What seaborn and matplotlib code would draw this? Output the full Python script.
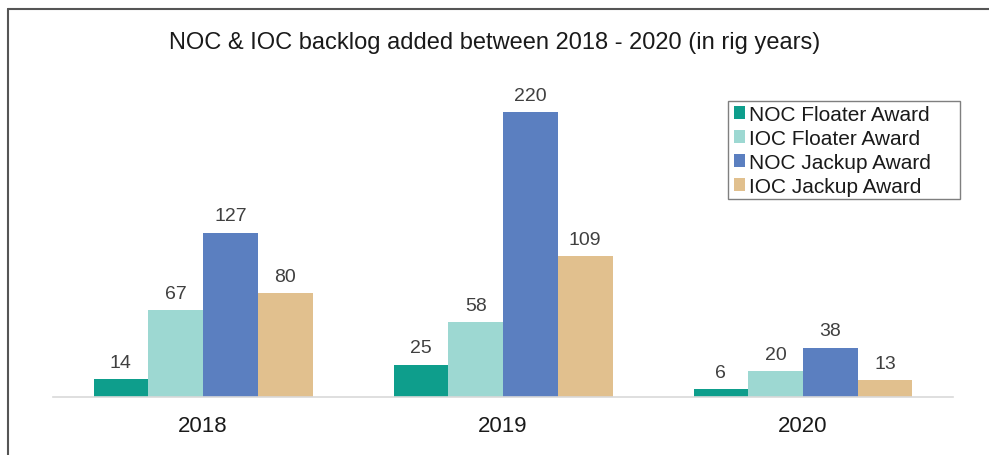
import matplotlib
matplotlib.use("Agg")
import matplotlib.pyplot as plt
import seaborn as sns
import pandas as pd
from matplotlib.lines import Line2D
from matplotlib.patches import Rectangle

years = ["2018", "2019", "2020"]
series = ["NOC Floater Award", "IOC Floater Award", "NOC Jackup Award", "IOC Jackup Award"]
noc_floater = [14, 25, 6]
ioc_floater = [67, 58, 20]
noc_jackup = [127, 220, 38]
ioc_jackup = [80, 109, 13]
colors = ["#0E9E8C", "#9DD8D2", "#5B7FC0", "#E1C08E"]

rows = []
for s, vals in zip(series, [noc_floater, ioc_floater, noc_jackup, ioc_jackup]):
    for y, v in zip(years, vals):
        rows.append({"Year": y, "Series": s, "Value": v})
df = pd.DataFrame(rows)

sns.set_theme(style="white")
plt.rcParams['font.family'] = ['Liberation Sans', 'DejaVu Sans']

W, H = 989, 456
fig = plt.figure(figsize=(W / 100, H / 100), dpi=100)
ax = fig.add_axes([53 / W, 1 - 398 / H, 900 / W, (398 - 70) / H])

sns.barplot(data=df, x="Year", y="Value", hue="Series", hue_order=series,
            palette=colors, width=0.73, saturation=1, ax=ax, errorbar=None,
            linewidth=0)

ax.set_xlim(-0.5, 2.5)
ax.set_ylim(0, (398 - 70) / 1.295)
for c in ax.containers:
    ax.bar_label(c, padding=6, fontsize=14, color="#404040")

ax.set_xlabel("")
ax.set_ylabel("")
ax.set_yticks([])
for side in ["top", "right", "left"]:
    ax.spines[side].set_visible(False)
ax.spines["bottom"].set_color("#D9D9D9")
ax.spines["bottom"].set_linewidth(1.2)
ax.tick_params(axis="x", length=0, pad=13, labelsize=16, labelcolor="#1a1a1a")

leg = ax.legend(loc="upper left", bbox_to_anchor=((730 - 53) / 900, 1 - (102 - 70) / (398 - 70)),
                frameon=False, fontsize=15,
                handlelength=0.55, handleheight=0.55, handletextpad=0.2,
                labelspacing=0.24, borderpad=0.18, borderaxespad=0)
for t in leg.get_texts():
    t.set_color("#1a1a1a")

# legend frame box
fig.add_artist(Rectangle((728 / W, 1 - 200 / H), (960 - 728) / W, (200 - 102) / H,
                         transform=fig.transFigure, fill=False,
                         edgecolor="#7F7F7F", linewidth=1.0))

fig.text(0.5, 1 - 43 / H, "NOC & IOC backlog added between 2018 - 2020 (in rig years)",
         ha="center", va="center", fontsize=17, color="#1a1a1a")

# outer frame lines (top and left)
fig.add_artist(Line2D([8 / W, 1], [1 - 10 / H, 1 - 10 / H], transform=fig.transFigure,
                      color="#555555", linewidth=1.5))
fig.add_artist(Line2D([8 / W, 8 / W], [0, 1 - 10 / H], transform=fig.transFigure,
                      color="#555555", linewidth=1.5))

fig.savefig("out.png", dpi=100)
